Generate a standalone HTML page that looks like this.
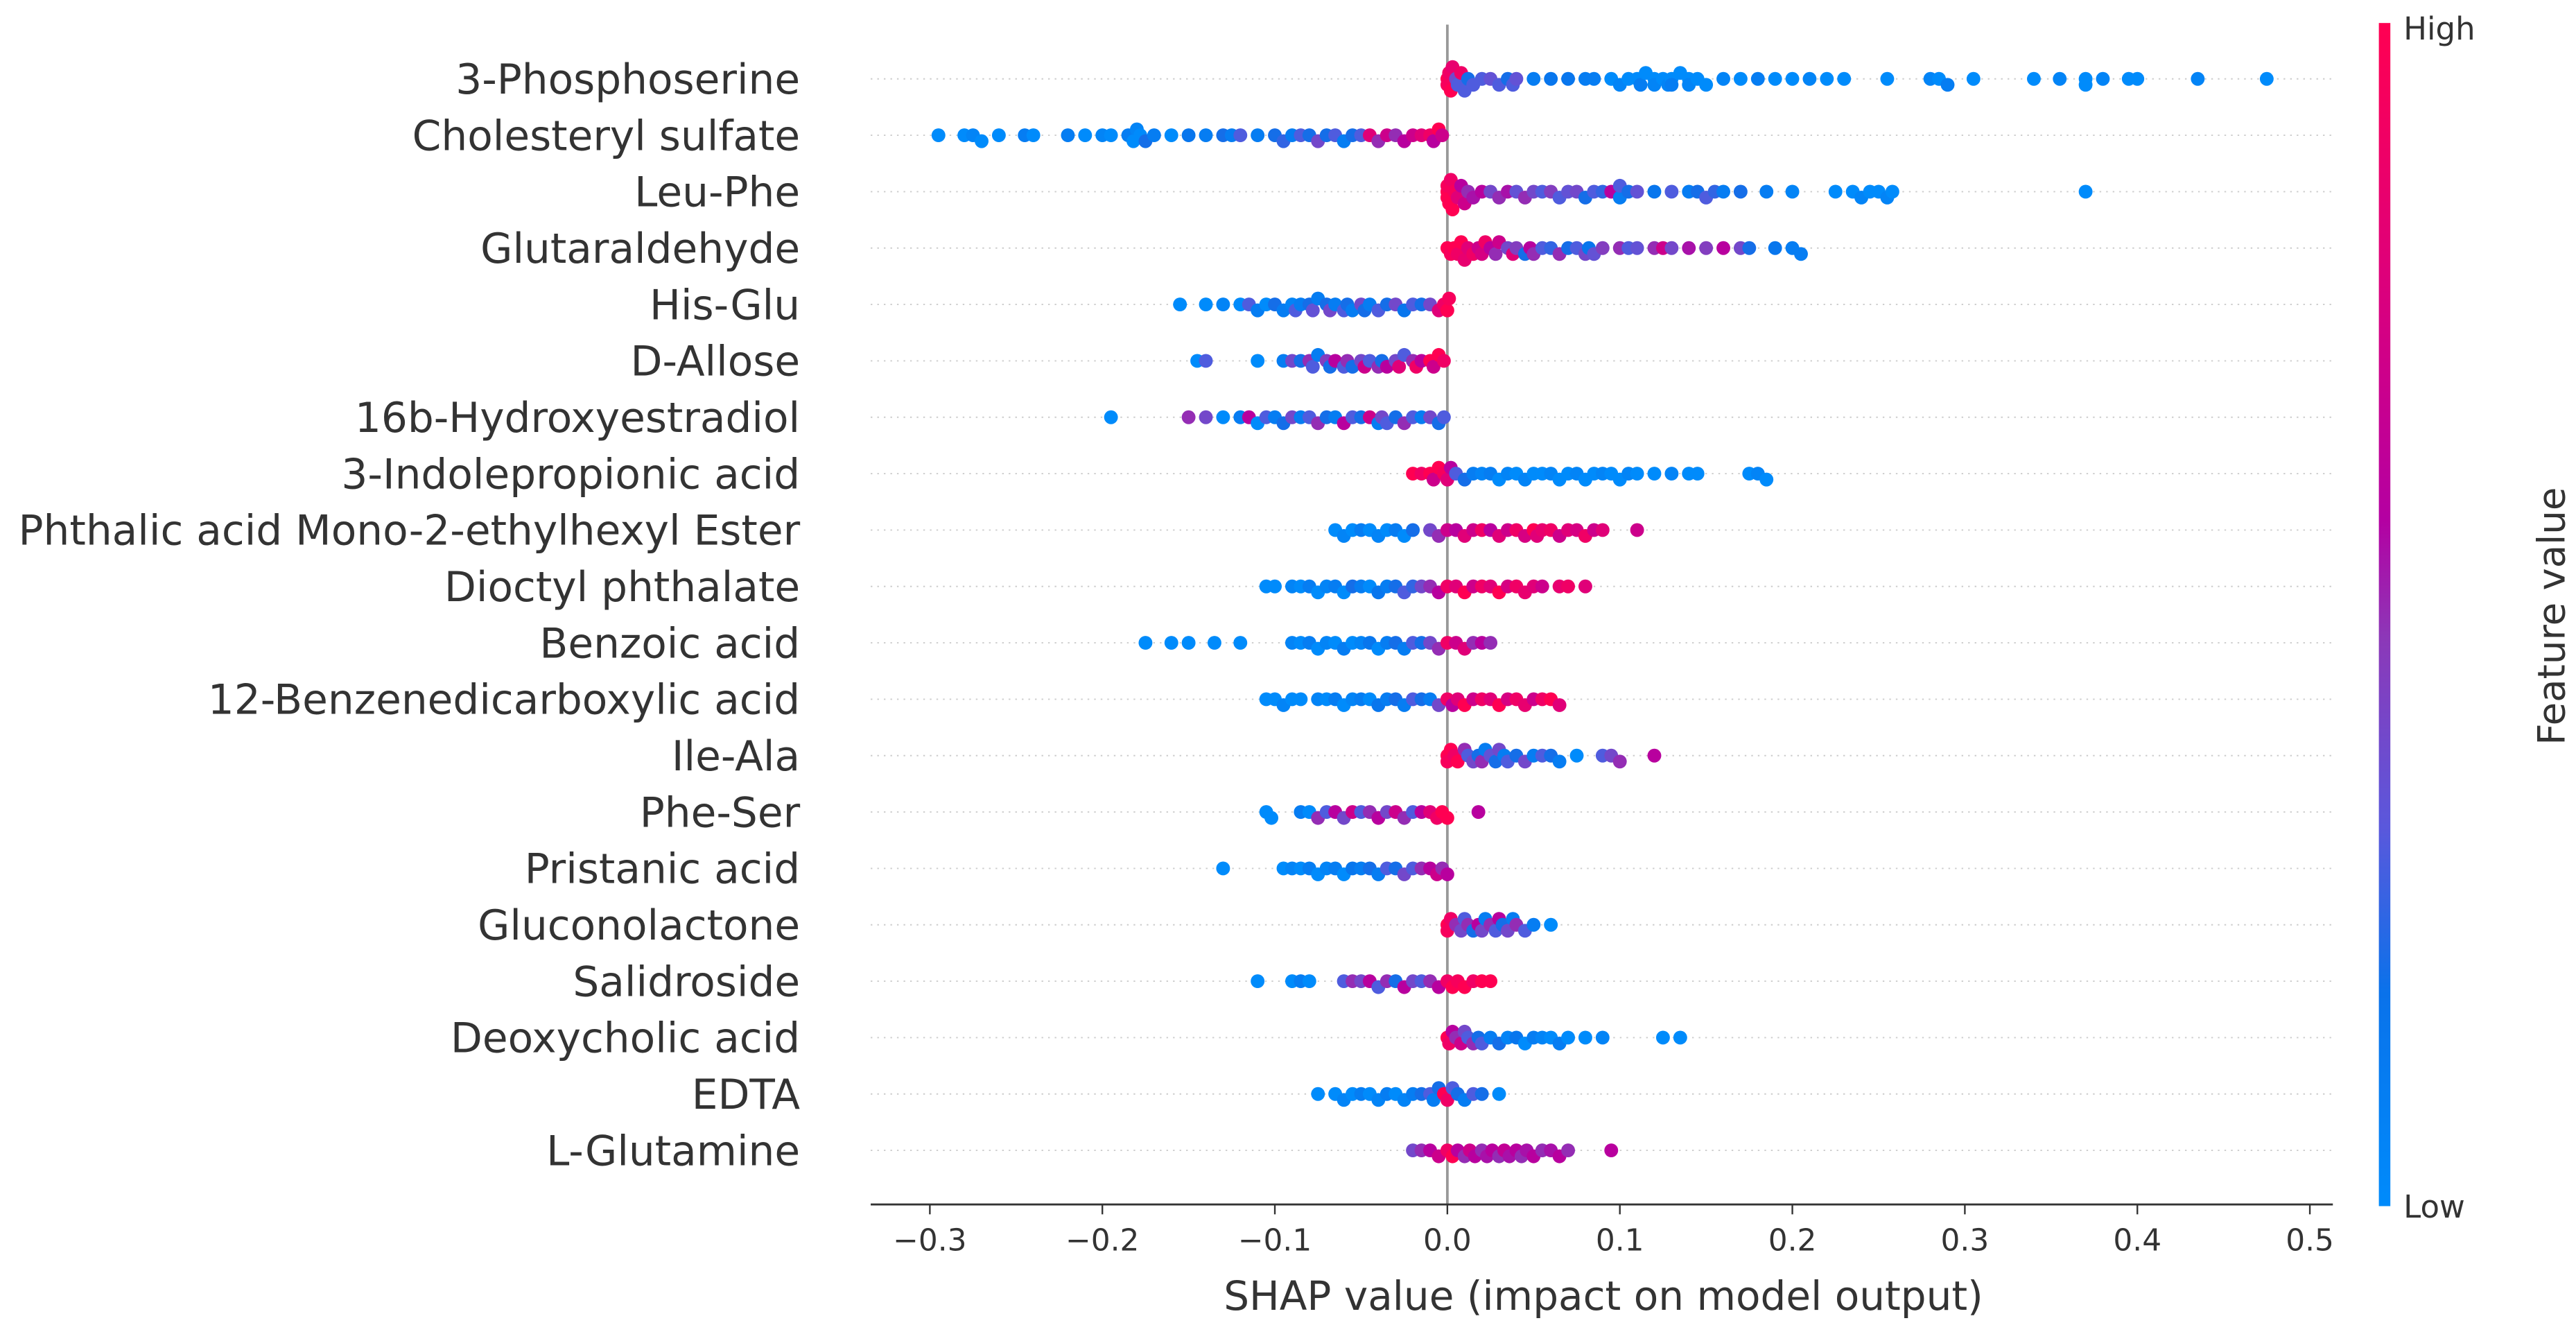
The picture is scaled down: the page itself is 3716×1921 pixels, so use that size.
<!DOCTYPE html>
<html><head><meta charset="utf-8"><style>
html,body{margin:0;padding:0;background:#fff;}
svg{display:block;}
text{font-family:"DejaVu Sans","Liberation Sans",sans-serif;fill:#333;}
</style></head><body>
<svg id="chart" xmlns="http://www.w3.org/2000/svg" width="3716" height="1921" viewBox="0 0 1568 810.6" preserveAspectRatio="none">
<defs>
<linearGradient id="cbar" x1="0" y1="1" x2="0" y2="0">
<stop offset="0" stop-color="#008bfb"/><stop offset="0.18" stop-color="#0a72ea"/><stop offset="0.32" stop-color="#5a58dc"/><stop offset="0.48" stop-color="#8c38b8"/><stop offset="0.58" stop-color="#b400a2"/><stop offset="0.8" stop-color="#e00078"/><stop offset="1" stop-color="#ff0052"/>
</linearGradient>
</defs>
<g id="grid"></g>
<line x1="881" y1="15" x2="881" y2="733" stroke="#999" stroke-width="1.6"/>
<g id="dots"></g>
<g id="labels"></g>
<line x1="530" y1="733" x2="1420" y2="733" stroke="#333" stroke-width="1.2"/>
<g id="xticks"></g>
<text x="976" y="797" font-size="24.5" text-anchor="middle">SHAP value (impact on model output)</text>
<rect x="1448" y="14" width="7" height="720" fill="url(#cbar)"/>
<text x="1463" y="24" font-size="19">High</text>
<text x="1463" y="741" font-size="19">Low</text>
<text x="0" y="0" font-size="23" text-anchor="middle" transform="translate(1561,375) rotate(-90)">Feature value</text>
</svg>
<script>
const features = ["3-Phosphoserine","Cholesteryl sulfate","Leu-Phe","Glutaraldehyde","His-Glu","D-Allose","16b-Hydroxyestradiol","3-Indolepropionic acid","Phthalic acid Mono-2-ethylhexyl Ester","Dioctyl phthalate","Benzoic acid","12-Benzenedicarboxylic acid","Ile-Ala","Phe-Ser","Pristanic acid","Gluconolactone","Salidroside","Deoxycholic acid","EDTA","L-Glutamine"];
const xTicks = [-0.3,-0.2,-0.1,0.0,0.1,0.2,0.3,0.4,0.5];
const xTickLabels = ["\u22120.3","\u22120.2","\u22120.1","0.0","0.1","0.2","0.3","0.4","0.5"];
const v0 = [0,0,0.001,0.002,0.003,0.005,0.006,0.008,0.01,0.012,0.015,0.02,0.025,0.03,0.035,0.038,0.04,0.05,0.06,0.07,0.08,0.085,0.095,0.1,0.105,0.11,0.112,0.115,0.12,0.12,0.125,0.128,0.13,0.13,0.135,0.14,0.14,0.145,0.15,0.16,0.17,0.18,0.19,0.2,0.21,0.22,0.23,0.255,0.28,0.285,0.29,0.305,0.34,0.355,0.37,0.37,0.38,0.395,0.4,0.435,0.475];
const c0 = [1,0.95,0.9,1,0.85,0.4,0.3,0.9,0.3,0.2,0.3,0.3,0.35,0.3,0.2,0.3,0.35,0.1,0.15,0.15,0.1,0.1,0,0.05,0,0,0.1,0,0,0.05,0,0.05,0,0.1,0,0,0.05,0,0,0.05,0,0.1,0,0,0.05,0,0,0,0.05,0,0.1,0,0,0.05,0,0,0.05,0,0,0.05,0];
const v1 = [-0.295,-0.28,-0.275,-0.27,-0.26,-0.245,-0.24,-0.22,-0.21,-0.2,-0.195,-0.185,-0.182,-0.18,-0.178,-0.175,-0.17,-0.16,-0.15,-0.14,-0.13,-0.125,-0.12,-0.11,-0.1,-0.095,-0.09,-0.085,-0.08,-0.075,-0.07,-0.065,-0.06,-0.055,-0.05,-0.045,-0.04,-0.035,-0.03,-0.025,-0.02,-0.015,-0.01,-0.008,-0.005,-0.003];
const c1 = [0,0,0.05,0,0,0.1,0,0.1,0,0.05,0,0.1,0,0.05,0,0.2,0.1,0,0.15,0.1,0.2,0.1,0.3,0.1,0.2,0.25,0.1,0.3,0.2,0.4,0.2,0.3,0.1,0.2,0.3,0.8,0.5,0.7,0.5,0.6,0.7,0.8,0.9,0.6,1,0.7];
const v2 = [0,0,0,0.001,0.002,0.003,0.004,0.006,0.008,0.01,0.012,0.015,0.02,0.025,0.03,0.035,0.04,0.045,0.05,0.055,0.06,0.065,0.07,0.075,0.08,0.085,0.09,0.095,0.1,0.1,0.105,0.11,0.12,0.13,0.14,0.145,0.15,0.155,0.16,0.17,0.185,0.2,0.225,0.235,0.24,0.245,0.25,0.255,0.258,0.37];
const c2 = [1,1,0.95,1,0.9,1,0.95,0.8,0.6,0.7,0.5,0.55,0.6,0.4,0.5,0.55,0.35,0.5,0.4,0.3,0.45,0.3,0.35,0.4,0.2,0.3,0.25,0.6,0.1,0.3,0.2,0.35,0.15,0.3,0.1,0.2,0.3,0.25,0.1,0.2,0.1,0.05,0,0,0.05,0,0,0.05,0,0];
const v3 = [0,0.002,0.004,0.006,0.008,0.01,0.012,0.015,0.018,0.02,0.022,0.025,0.028,0.03,0.035,0.038,0.04,0.045,0.048,0.05,0.055,0.06,0.065,0.07,0.075,0.08,0.082,0.085,0.09,0.1,0.105,0.11,0.12,0.125,0.13,0.14,0.15,0.16,0.17,0.175,0.19,0.2,0.205];
const c3 = [1,0.95,1,0.9,1,0.85,0.8,0.9,0.7,0.75,0.9,0.6,0.5,0.7,0.4,0.8,0.45,0.2,0.6,0.5,0.3,0.25,0.5,0.2,0.3,0.4,0.15,0.35,0.45,0.5,0.3,0.35,0.5,0.7,0.4,0.55,0.45,0.6,0.4,0.2,0.15,0.1,0.1];
const v4 = [-0.155,-0.14,-0.13,-0.12,-0.115,-0.11,-0.105,-0.1,-0.095,-0.09,-0.088,-0.085,-0.08,-0.078,-0.075,-0.07,-0.068,-0.065,-0.06,-0.058,-0.055,-0.05,-0.048,-0.045,-0.04,-0.035,-0.03,-0.025,-0.02,-0.015,-0.01,-0.005,-0.002,0,0.001];
const c4 = [0,0,0.05,0,0.3,0.1,0,0.2,0.1,0.05,0.3,0.1,0.2,0.35,0.1,0.2,0.4,0.1,0.3,0.2,0.1,0.4,0.2,0.1,0.3,0.2,0.4,0.15,0.3,0.2,0.4,0.8,0.9,1,0.95];
const v5 = [-0.145,-0.14,-0.11,-0.095,-0.09,-0.085,-0.08,-0.078,-0.075,-0.07,-0.068,-0.065,-0.06,-0.058,-0.055,-0.05,-0.048,-0.045,-0.04,-0.038,-0.035,-0.03,-0.028,-0.025,-0.02,-0.018,-0.015,-0.01,-0.008,-0.005,-0.002];
const c5 = [0,0.3,0,0.1,0.4,0.2,0.5,0.3,0.1,0.45,0.2,0.6,0.3,0.5,0.2,0.4,0.7,0.3,0.5,0.2,0.6,0.4,0.8,0.3,0.5,0.9,0.6,1,0.7,1,0.9];
const v6 = [-0.195,-0.15,-0.14,-0.13,-0.12,-0.115,-0.11,-0.105,-0.1,-0.095,-0.09,-0.085,-0.08,-0.075,-0.07,-0.065,-0.06,-0.055,-0.05,-0.045,-0.04,-0.038,-0.035,-0.03,-0.025,-0.02,-0.015,-0.01,-0.005,-0.002];
const c6 = [0,0.5,0.4,0,0.1,0.6,0,0.3,0.1,0.2,0.4,0.1,0.3,0.5,0.2,0.1,0.6,0.3,0.2,0.7,0.1,0.4,0.3,0.2,0.5,0.3,0.1,0.4,0.2,0.3];
const v7 = [-0.02,-0.015,-0.01,-0.008,-0.005,-0.002,0,0.002,0.005,0.01,0.015,0.02,0.025,0.03,0.035,0.04,0.045,0.05,0.055,0.06,0.065,0.07,0.075,0.08,0.085,0.09,0.095,0.1,0.105,0.11,0.12,0.13,0.14,0.145,0.175,0.18,0.185];
const c7 = [1,0.9,1,0.7,1,0.95,0.8,0.6,0.3,0.2,0.1,0.05,0.1,0,0.05,0,0.05,0,0,0.05,0,0,0.05,0,0,0.05,0,0,0.05,0,0,0.05,0,0,0,0.05,0];
const v8 = [-0.065,-0.06,-0.055,-0.05,-0.045,-0.04,-0.035,-0.03,-0.025,-0.02,-0.01,-0.005,0,0.005,0.01,0.015,0.02,0.025,0.03,0.035,0.04,0.045,0.05,0.052,0.055,0.06,0.065,0.07,0.075,0.08,0.085,0.09,0.11];
const c8 = [0,0.05,0,0.1,0,0.05,0,0.1,0,0.2,0.4,0.5,0.7,0.6,0.8,0.7,0.9,0.6,0.8,0.7,0.9,0.75,1,0.8,0.85,0.9,0.7,0.8,0.75,0.9,0.7,0.8,0.7];
const v9 = [-0.105,-0.1,-0.09,-0.085,-0.08,-0.075,-0.07,-0.065,-0.06,-0.055,-0.05,-0.045,-0.04,-0.035,-0.03,-0.025,-0.02,-0.015,-0.01,-0.005,0,0.005,0.01,0.015,0.02,0.025,0.03,0.035,0.04,0.045,0.05,0.055,0.065,0.07,0.08];
const c9 = [0,0,0.05,0,0.1,0,0.05,0.1,0,0.2,0.1,0,0.15,0.1,0.2,0.3,0.25,0.4,0.5,0.6,0.9,0.8,1,0.7,0.9,0.8,1,0.75,0.9,0.85,0.8,0.7,0.85,0.9,0.8];
const v10 = [-0.175,-0.16,-0.15,-0.135,-0.12,-0.09,-0.085,-0.08,-0.075,-0.07,-0.065,-0.06,-0.055,-0.05,-0.045,-0.04,-0.035,-0.03,-0.025,-0.02,-0.015,-0.01,-0.005,0,0.005,0.01,0.015,0.02,0.025];
const c10 = [0,0,0,0,0,0.05,0,0.1,0,0.05,0,0.1,0,0.05,0.15,0,0.1,0.2,0.1,0.3,0.2,0.4,0.5,0.9,0.7,0.8,0.5,0.6,0.5];
const v11 = [-0.105,-0.1,-0.095,-0.09,-0.085,-0.075,-0.07,-0.065,-0.06,-0.055,-0.05,-0.045,-0.04,-0.035,-0.03,-0.025,-0.02,-0.015,-0.01,-0.005,0,0.003,0.006,0.01,0.015,0.02,0.025,0.03,0.035,0.04,0.045,0.05,0.055,0.06,0.065];
const c11 = [0,0,0.05,0,0,0.05,0,0.1,0,0.05,0.1,0,0.15,0.1,0.2,0.1,0.3,0.2,0.1,0.4,0.9,0.6,0.8,1,0.7,0.9,0.8,1,0.75,0.9,0.85,0.7,0.9,1,0.8];
const v12 = [0,0,0.002,0.004,0.006,0.01,0.012,0.015,0.018,0.02,0.022,0.025,0.028,0.03,0.033,0.035,0.04,0.045,0.05,0.055,0.06,0.065,0.075,0.09,0.095,0.1,0.12];
const c12 = [1,0.95,1,0.9,1,0.5,0.3,0.4,0.2,0.5,0.1,0.35,0.2,0.4,0.1,0.3,0.2,0.4,0.1,0.3,0.2,0.1,0,0.3,0.4,0.5,0.6];
const v13 = [-0.105,-0.102,-0.085,-0.08,-0.075,-0.07,-0.065,-0.06,-0.055,-0.05,-0.045,-0.04,-0.035,-0.03,-0.025,-0.02,-0.015,-0.01,-0.006,-0.003,0,0.018];
const c13 = [0,0,0.1,0,0.5,0.3,0.6,0.4,0.7,0.3,0.5,0.6,0.4,0.7,0.5,0.3,0.6,0.8,0.9,1,1,0.6];
const v14 = [-0.13,-0.095,-0.09,-0.085,-0.08,-0.075,-0.07,-0.065,-0.06,-0.055,-0.05,-0.045,-0.04,-0.035,-0.03,-0.025,-0.02,-0.015,-0.01,-0.006,-0.003,0];
const c14 = [0,0,0.05,0,0.1,0,0.05,0.1,0,0.15,0.1,0.2,0.1,0.3,0.2,0.4,0.3,0.5,0.6,0.7,0.5,0.6];
const v15 = [0,0,0.002,0.005,0.008,0.01,0.012,0.015,0.018,0.02,0.022,0.025,0.028,0.03,0.032,0.035,0.038,0.04,0.045,0.05,0.06];
const c15 = [1,0.95,0.9,0.5,0.4,0.3,0.5,0.2,0.6,0.4,0.1,0.5,0.3,0.6,0.2,0.4,0.1,0.5,0.3,0.1,0];
const v16 = [-0.11,-0.09,-0.085,-0.08,-0.06,-0.055,-0.05,-0.045,-0.04,-0.035,-0.03,-0.025,-0.02,-0.015,-0.01,-0.005,0,0.003,0.006,0.01,0.015,0.02,0.025];
const c16 = [0,0,0.1,0,0.3,0.5,0.4,0.6,0.3,0.5,0.2,0.6,0.4,0.3,0.5,0.6,0.9,1,0.95,1,0.9,1,1];
const v17 = [0,0.001,0.003,0.005,0.008,0.01,0.012,0.015,0.018,0.02,0.025,0.03,0.035,0.04,0.045,0.05,0.055,0.06,0.065,0.07,0.08,0.09,0.125,0.135];
const c17 = [1,0.9,0.6,0.5,0.7,0.4,0.3,0.5,0.2,0.3,0.1,0.2,0.05,0.15,0,0.1,0.05,0,0.1,0,0,0.05,0,0];
const v18 = [-0.075,-0.065,-0.06,-0.055,-0.05,-0.045,-0.04,-0.035,-0.03,-0.025,-0.02,-0.015,-0.01,-0.008,-0.005,-0.002,0,0.003,0.006,0.01,0.015,0.02,0.03];
const c18 = [0,0,0.05,0,0.1,0,0.05,0.1,0,0.05,0.1,0.2,0.3,0.1,0.2,1,0.9,0.3,0.2,0.1,0.3,0.2,0];
const v19 = [-0.02,-0.015,-0.01,-0.005,0,0.003,0.006,0.01,0.013,0.016,0.02,0.023,0.026,0.03,0.033,0.036,0.04,0.043,0.046,0.05,0.055,0.06,0.065,0.07,0.095];
const c19 = [0.4,0.5,0.6,0.7,0.9,1,0.6,0.5,0.7,0.6,0.5,0.55,0.6,0.5,0.65,0.55,0.6,0.5,0.55,0.6,0.5,0.55,0.6,0.5,0.6];
const seriesValues = [v0,v1,v2,v3,v4,v5,v6,v7,v8,v9,v10,v11,v12,v13,v14,v15,v16,v17,v18,v19];
const seriesColors = [c0,c1,c2,c3,c4,c5,c6,c7,c8,c9,c10,c11,c12,c13,c14,c15,c16,c17,c18,c19];

const NS = "http://www.w3.org/2000/svg";
function xScale(v){ return 881 + 1050 * v; }
function rowY(i){ return 48 + i * 34.32; }
const stops = [[0,[0,139,251]],[0.18,[10,114,234]],[0.32,[90,88,220]],[0.48,[140,56,184]],[0.58,[180,0,162]],[0.8,[224,0,120]],[1,[255,0,82]]];
function colorOf(t){
  for(let k=1;k<stops.length;k++){
    if(t<=stops[k][0]){
      const a=stops[k-1], b=stops[k], f=(t-a[0])/(b[0]-a[0]);
      const c=a[1].map((x,j)=>Math.round(x+(b[1][j]-x)*f));
      return "rgb("+c.join(",")+")";
    }
  }
  return "rgb(255,0,82)";
}
const grid=document.getElementById("grid"), dots=document.getElementById("dots"), labels=document.getElementById("labels"), xt=document.getElementById("xticks");
features.forEach((name,i)=>{
  const y=rowY(i);
  const gl=document.createElementNS(NS,"line");
  
  
  gl.setAttribute("x1",530);gl.setAttribute("x2",1420);gl.setAttribute("y1",y);gl.setAttribute("y2",y);
  gl.setAttribute("stroke","#ccc");gl.setAttribute("stroke-width","0.8");gl.setAttribute("stroke-dasharray","1 3");
  grid.appendChild(gl);
  const t=document.createElementNS(NS,"text");
  
  
  t.setAttribute("x",487);t.setAttribute("y",y+9);t.setAttribute("font-size","25.2");t.setAttribute("text-anchor","end");
  t.textContent=name;
  labels.appendChild(t);
  const vals=seriesValues[i], cols=seriesColors[i];
  const idx=vals.map((v,k)=>k).sort((a,b)=>vals[a]-vals[b]);
  const bins={};
  idx.forEach(k=>{
    const b=Math.round(vals[k]/0.007);
    const n=bins[b]||0; bins[b]=n+1;
    const step=Math.ceil(n/2)*(n%2?1:-1);
    const off=Math.max(-13,Math.min(13,step*3.6));
    const c=document.createElementNS(NS,"circle");
    
    
    c.setAttribute("cx",xScale(vals[k]));c.setAttribute("cy",y+off);c.setAttribute("r",4.2);
    c.setAttribute("fill",colorOf(cols[k]));
    dots.appendChild(c);
  });
});
xTicks.forEach((v,i)=>{
  const x=xScale(v);
  const l=document.createElementNS(NS,"line");
  
  
  l.setAttribute("x1",x);l.setAttribute("x2",x);l.setAttribute("y1",733);l.setAttribute("y2",739);
  l.setAttribute("stroke","#333");l.setAttribute("stroke-width","1");
  xt.appendChild(l);
  const t=document.createElementNS(NS,"text");
  
  
  t.setAttribute("x",x);t.setAttribute("y",761);t.setAttribute("font-size","18.5");t.setAttribute("text-anchor","middle");
  t.textContent=xTickLabels[i];
  xt.appendChild(t);
});
</script>
</body></html>
